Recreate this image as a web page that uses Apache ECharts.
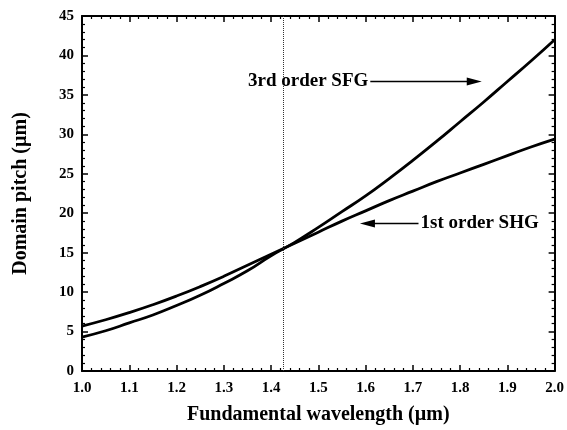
<!DOCTYPE html>
<html>
<head>
<meta charset="utf-8">
<script src="https://cdn.jsdelivr.net/npm/echarts@6/dist/echarts.min.js"></script>
<style>
  html, body { margin: 0; padding: 0; background: #fff; }
  #chart { width: 567px; height: 430px; }
</style>
</head>
<body>
<div id="chart"></div>
<script>
// Fundamental wavelength (µm)
const wavelength = [1.0, 1.05, 1.1, 1.15, 1.2, 1.25, 1.3, 1.35, 1.4, 1.45, 1.5,
                    1.55, 1.6, 1.65, 1.7, 1.75, 1.8, 1.85, 1.9, 1.95, 2.0];
// Domain pitch (µm) for first-order SHG
const pitchSHG = [5.7, 6.5, 7.4, 8.4, 9.5, 10.7, 12.0, 13.4, 14.8, 16.2, 17.6,
                  19.0, 20.3, 21.6, 22.8, 24.0, 25.1, 26.2, 27.3, 28.4, 29.4];
// Domain pitch (µm) for third-order SFG
const pitchSFG = [4.3, 5.1, 6.1, 7.1, 8.3, 9.6, 11.1, 12.7, 14.6, 16.3, 18.2,
                  20.2, 22.2, 24.4, 26.7, 29.1, 31.6, 34.1, 36.7, 39.3, 42.0];

// Vertical reference wavelength
const crossWavelength = 1.425;

// Annotation arrows: [label, fromX, toX, y]
const arrowSFG = ['3rd order SFG', 1.61, 1.83, 36.7];
const arrowSHG = ['1st order SHG', 1.712, 1.604, 18.7];

const FONT = '"Liberation Serif", "DejaVu Serif", serif';

const chart = echarts.init(document.getElementById('chart'), null, { renderer: 'canvas' });

function xAxisDef(pos, showLabel, showName) {
  return {
    type: 'value', position: pos, min: 1, max: 2, interval: 0.1,
    name: showName ? 'Fundamental wavelength (\u00b5m)' : '',
    nameLocation: 'middle', nameGap: 34,
    nameTextStyle: { fontFamily: FONT, fontWeight: 'bold', fontSize: 20, color: '#000' },
    axisLine: { show: true, onZero: false, lineStyle: { color: '#000', width: 2 } },
    axisTick: { show: true, inside: true, length: 6, lineStyle: { color: '#000', width: 1.5 } },
    minorTick: { show: true, splitNumber: 5, length: 3, lineStyle: { color: '#000', width: 1.2 } },
    splitLine: { show: false },
    axisLabel: {
      show: showLabel, margin: 10, fontFamily: FONT, fontWeight: 'bold', fontSize: 15, color: '#000',
      formatter: v => v.toFixed(1)
    }
  };
}

function yAxisDef(pos, showLabel, showName) {
  return {
    type: 'value', position: pos, min: 0, max: 45, interval: 5,
    name: showName ? 'Domain pitch (\u00b5m)' : '',
    nameLocation: 'middle', nameGap: 51, nameRotate: 90,
    nameTextStyle: { fontFamily: FONT, fontWeight: 'bold', fontSize: 20, color: '#000' },
    axisLine: { show: true, onZero: false, lineStyle: { color: '#000', width: 2 } },
    axisTick: { show: true, inside: true, length: 6, lineStyle: { color: '#000', width: 1.5 } },
    minorTick: { show: true, splitNumber: 5, length: 3, lineStyle: { color: '#000', width: 1.2 } },
    splitLine: { show: false },
    axisLabel: {
      show: showLabel, margin: 8, fontFamily: FONT, fontWeight: 'bold', fontSize: 15, color: '#000'
    }
  };
}

function arrowLine(a) {
  return [
    { coord: [a[1], a[3]], symbol: 'none', name: a[0] },
    { coord: [a[2], a[3]], symbol: 'triangle', symbolSize: [8, 15] }
  ];
}

const annotationLabel = {
  show: true, position: 'start', distance: 2,
  fontFamily: FONT, fontWeight: 'bold', fontSize: 19, color: '#000',
  formatter: p => p.name
};

const option = {
  animation: false,
  backgroundColor: '#fff',
  grid: { left: 82, right: 10, top: 16, bottom: 58 },
  xAxis: [xAxisDef('bottom', true, true), xAxisDef('top', false, false)],
  yAxis: [yAxisDef('left', true, true), yAxisDef('right', false, false)],
  series: [
    {
      name: '1st order SHG', type: 'line', smooth: true, symbol: 'none',
      data: wavelength.map((x, i) => [x, pitchSHG[i]]),
      lineStyle: { color: '#000', width: 2.8 },
      markLine: {
        silent: true, animation: false,
        lineStyle: { color: '#000', width: 1.3, type: 'solid' },
        label: annotationLabel,
        data: [arrowLine(arrowSHG)]
      }
    },
    {
      name: '3rd order SFG', type: 'line', smooth: true, symbol: 'none',
      data: wavelength.map((x, i) => [x, pitchSFG[i]]),
      lineStyle: { color: '#000', width: 2.8 },
      markLine: {
        silent: true, animation: false,
        lineStyle: { color: '#000', width: 1.3, type: 'solid' },
        label: annotationLabel,
        data: [
          arrowLine(arrowSFG),
          [
            { coord: [crossWavelength, 0], symbol: 'none', name: '',
              lineStyle: { type: 'dotted', width: 1, color: '#333' }, label: { show: false } },
            { coord: [crossWavelength, 45], symbol: 'none' }
          ]
        ]
      }
    }
  ]
};

chart.setOption(option);
</script>
</body>
</html>
